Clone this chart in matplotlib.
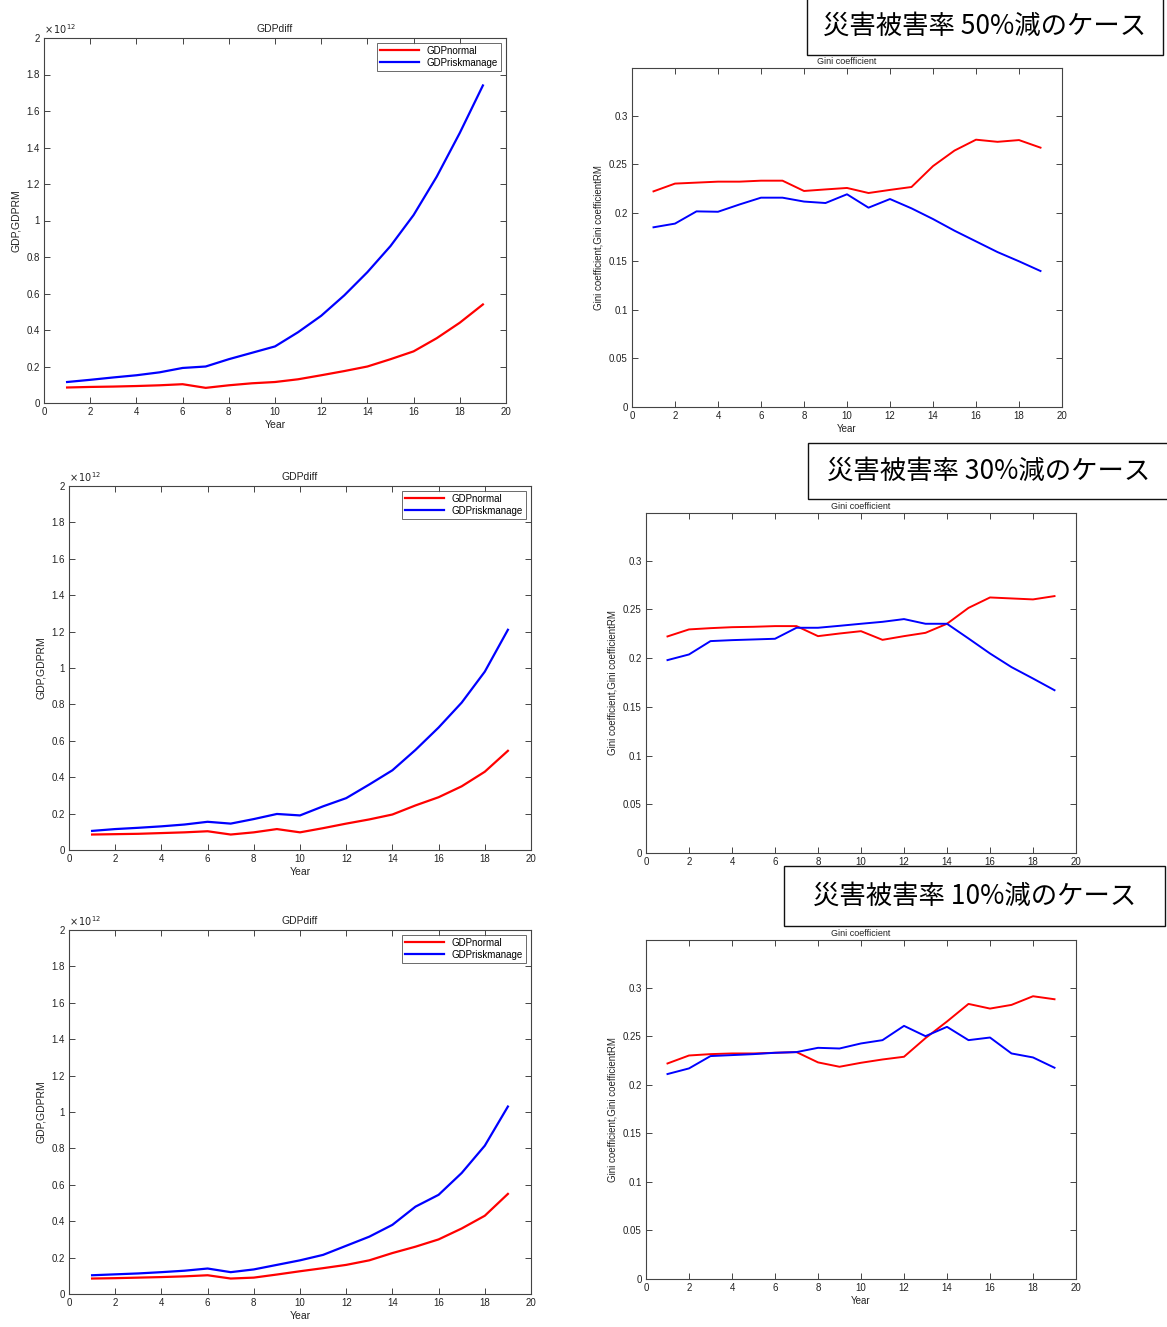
import numpy as np
import matplotlib.pyplot as plt
from matplotlib.patches import Rectangle
from matplotlib.ticker import ScalarFormatter

plt.rcParams['font.family'] = ['Liberation Sans', 'Noto Sans CJK JP', 'DejaVu Sans']

W, H = 1167, 1327

years = np.arange(1, 20)

# GDP in units of 1e12
gdp_normal_50 = [0.085, 0.088, 0.090, 0.093, 0.097, 0.103, 0.083, 0.097, 0.108, 0.115,
                 0.130, 0.152, 0.175, 0.200, 0.240, 0.283, 0.355, 0.440, 0.540]
gdp_risk_50 = [0.115, 0.127, 0.140, 0.152, 0.168, 0.192, 0.200, 0.240, 0.275, 0.310,
               0.388, 0.478, 0.590, 0.717, 0.860, 1.030, 1.240, 1.480, 1.740]
gdp_normal_30 = [0.085, 0.087, 0.089, 0.093, 0.097, 0.103, 0.085, 0.097, 0.115, 0.097,
                 0.120, 0.145, 0.168, 0.195, 0.245, 0.290, 0.350, 0.430, 0.545]
gdp_risk_30 = [0.105, 0.115, 0.122, 0.130, 0.140, 0.155, 0.145, 0.170, 0.198, 0.190,
               0.240, 0.285, 0.360, 0.438, 0.550, 0.673, 0.810, 0.980, 1.210]
gdp_normal_10 = [0.085, 0.087, 0.090, 0.093, 0.097, 0.103, 0.085, 0.090, 0.107, 0.125,
                 0.142, 0.160, 0.185, 0.225, 0.260, 0.300, 0.360, 0.430, 0.550]
gdp_risk_10 = [0.103, 0.108, 0.113, 0.120, 0.128, 0.140, 0.120, 0.135, 0.160, 0.185,
               0.215, 0.265, 0.315, 0.380, 0.480, 0.545, 0.665, 0.815, 1.030]

gini_normal_50 = [0.222, 0.230, 0.231, 0.232, 0.232, 0.233, 0.233, 0.2224, 0.224, 0.2255,
                  0.2203, 0.2235, 0.2265, 0.248, 0.264, 0.2752, 0.273, 0.2748, 0.267]
gini_risk_50 = [0.185, 0.1888, 0.2014, 0.201, 0.2085, 0.2155, 0.2155, 0.2115, 0.210, 0.219,
                0.2052, 0.2141, 0.2045, 0.1935, 0.1815, 0.1705, 0.1595, 0.150, 0.140]
gini_normal_30 = [0.2223, 0.2295, 0.2308, 0.2318, 0.2322, 0.2329, 0.2329, 0.2226, 0.2253, 0.2277,
                  0.2188, 0.2226, 0.226, 0.2353, 0.2516, 0.2623, 0.2613, 0.2603, 0.2637]
gini_risk_30 = [0.198, 0.2038, 0.2175, 0.2185, 0.2192, 0.2199, 0.2312, 0.2312, 0.2332, 0.2353,
                0.2373, 0.2401, 0.2353, 0.2353, 0.2202, 0.2048, 0.1908, 0.1791, 0.1671]
gini_normal_10 = [0.2219, 0.2301, 0.2315, 0.2322, 0.2322, 0.2329, 0.2336, 0.223, 0.2185, 0.2226,
                  0.226, 0.2288, 0.248, 0.2651, 0.2832, 0.2784, 0.2822, 0.2911, 0.288]
gini_risk_10 = [0.211, 0.2168, 0.2295, 0.2305, 0.2315, 0.2329, 0.2336, 0.238, 0.2373, 0.2425,
                0.2459, 0.2606, 0.25, 0.2596, 0.2459, 0.2486, 0.2322, 0.2281, 0.2175]

case_labels = ['災害被害率 50%減のケース', '災害被害率 30%減のケース', '災害被害率 10%減のケース']

EDGE = '#444444'
TXT = '#222222'


def px_axes(fig, left, top, right, bottom):
    return fig.add_axes([left / W, 1 - bottom / H, (right - left) / W, (bottom - top) / H])


def matlab_style(ax):
    for s in ax.spines.values():
        s.set_color(EDGE)
        s.set_linewidth(0.8)
    ax.tick_params(direction='in', top=True, right=True, length=4, width=0.7,
                   color=EDGE, labelsize=7, labelcolor=TXT, pad=3)


def gdp_panel(ax, normal, risk):
    ax.plot(years, np.array(normal) * 1e12, color='#ff0000', lw=1.6, label='GDPnormal')
    ax.plot(years, np.array(risk) * 1e12, color='#0000ff', lw=1.6, label='GDPriskmanage')
    ax.set_xlim(0, 20)
    ax.set_ylim(0, 2e12)
    ax.set_xticks(range(0, 21, 2))
    ax.set_yticks(np.arange(0, 2.01, 0.2) * 1e12)
    ax.set_title('GDPdiff', fontsize=7.5, color=TXT, pad=4)
    ax.set_xlabel('Year', fontsize=7.5, color=TXT, labelpad=2)
    ax.set_ylabel('GDP,GDPRM', fontsize=7.5, color=TXT, labelpad=4)
    leg = ax.legend(loc='upper right', fontsize=7, handlelength=4, frameon=True,
                    fancybox=False, borderaxespad=0.5, labelspacing=0.2,
                    borderpad=0.3)
    leg.get_frame().set_edgecolor(EDGE)
    leg.get_frame().set_linewidth(0.7)
    matlab_style(ax)
    # MATLAB-like plain tick labels ("1" instead of "1.0"), exponent drawn separately
    ax.set_yticklabels([f'{v:g}' for v in np.round(np.arange(0, 2.01, 0.2), 1)])
    ax.text(0.0, 1.005, r'$\times\,10^{12}$', transform=ax.transAxes, fontsize=7,
            color=TXT, va='bottom', ha='left')


def gini_panel(ax, normal, risk):
    ax.plot(years, normal, color='#ff0000', lw=1.4)
    ax.plot(years, risk, color='#0000ff', lw=1.4)
    ax.set_xlim(0, 20)
    ax.set_ylim(0, 0.349)
    ax.set_xticks(range(0, 21, 2))
    ax.set_yticks(np.arange(0, 0.31, 0.05))
    ax.set_yticklabels([f'{v:g}' for v in np.round(np.arange(0, 0.31, 0.05), 2)])
    ax.set_title('Gini coefficient', fontsize=6.5, color=TXT, pad=3)
    ax.set_xlabel('Year', fontsize=7, color=TXT, labelpad=2)
    ax.set_ylabel('Gini coefficient,Gini coefficientRM', fontsize=7, color=TXT, labelpad=4)
    matlab_style(ax)


fig = plt.figure(figsize=(W / 100, H / 100), dpi=100)

gdp_boxes = [(44, 38, 506, 403), (69, 486, 531, 850), (69, 930, 531, 1294)]
gini_boxes = [(632, 68, 1062, 407), (646, 513, 1076, 853), (646, 940, 1076, 1279)]
gdp_series = [(gdp_normal_50, gdp_risk_50), (gdp_normal_30, gdp_risk_30),
              (gdp_normal_10, gdp_risk_10)]
gini_series = [(gini_normal_50, gini_risk_50), (gini_normal_30, gini_risk_30),
               (gini_normal_10, gini_risk_10)]

for box, (n, r) in zip(gdp_boxes, gdp_series):
    gdp_panel(px_axes(fig, *box), n, r)

for box, (n, r) in zip(gini_boxes, gini_series):
    gini_panel(px_axes(fig, *box), n, r)

# case label boxes (left, top, right, bottom in pixels) drawn over the Gini panels
label_boxes = [(807, -2, 1163, 55), (808, 443, 1169, 499), (784, 866, 1165, 926)]
for (l, t, r, b), label in zip(label_boxes, case_labels):
    rect = Rectangle((l / W, 1 - b / H), (r - l) / W, (b - t) / H,
                     transform=fig.transFigure, facecolor='white',
                     edgecolor='#111111', lw=1.0, zorder=10)
    fig.patches.append(rect)
    fig.text((l + r) / 2 / W, 1 - (t + b) / 2 / H, label, fontsize=19,
             family=['Noto Sans CJK JP', 'DejaVu Sans'],
             ha='center', va='center', color='black', zorder=11)

fig.savefig('out.png', dpi=100)
